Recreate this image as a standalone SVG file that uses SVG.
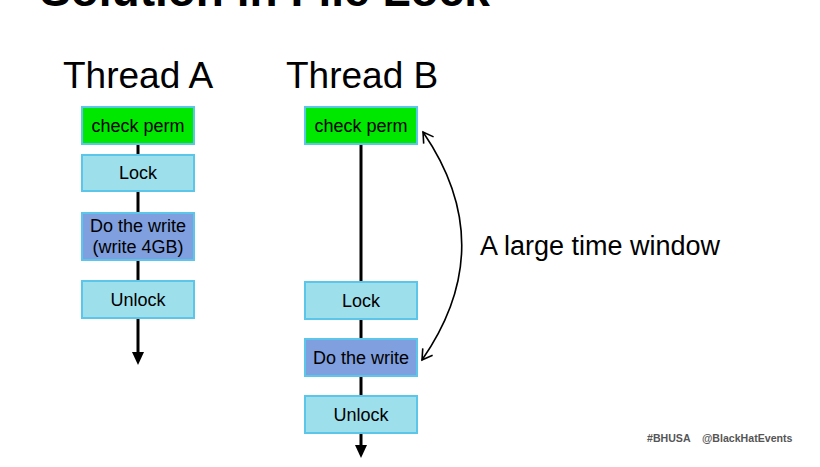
<svg xmlns="http://www.w3.org/2000/svg" width="820" height="467" viewBox="0 0 820 467">
<style>
text{font-family:"Liberation Sans",Arial,sans-serif;fill:#000}
.box{stroke:#5cc6ea;stroke-width:2}
.green{fill:#00e800}
.light{fill:#9ddfeb}
.write{fill:#7f9fdf}
.lbl{font-size:18px;text-anchor:middle}
.thread{font-size:37px}
.line{stroke:#000;stroke-width:3;fill:none}
.foot{font-size:10.6px;font-weight:bold;fill:#555}
</style>
<defs>
<marker id="solid" markerWidth="13" markerHeight="12" refX="1" refY="6" orient="auto" markerUnits="userSpaceOnUse" viewBox="0 0 13 12">
<path d="M0,0 L13,6 L0,12 Z" fill="#000"/>
</marker>
<marker id="open" markerWidth="14" markerHeight="14" refX="12" refY="7" orient="auto-start-reverse" markerUnits="userSpaceOnUse" viewBox="0 0 14 14">
<path d="M2,1 L12,7 L2,13" fill="none" stroke="#000" stroke-width="1.6"/>
</marker>
</defs>
<rect width="820" height="467" fill="#fff"/>
<text id="title" x="40" y="6" style="font-size:46px;font-weight:bold">Solution in File Lock</text>
<text id="threadA" class="thread" x="63" y="88">Thread A</text>
<text id="threadB" class="thread" x="286" y="88">Thread B</text>
<g id="connectors">
<line class="line" x1="138" y1="144" x2="138" y2="353" marker-end="url(#solid)"/>
<line class="line" x1="361" y1="144" x2="361" y2="446" marker-end="url(#solid)"/>
<path d="M423,132 Q501,246 422,360" fill="none" stroke="#000" stroke-width="1.6" marker-start="url(#open)" marker-end="url(#open)"/>
</g>
<g id="a-check"><rect class="box green" x="82" y="107" width="112" height="37"/><text class="lbl" x="138" y="132">check perm</text></g>
<g id="a-lock"><rect class="box light" x="82" y="155" width="112" height="36"/><text class="lbl" x="138" y="179">Lock</text></g>
<g id="a-write"><rect class="box write" x="82" y="213" width="112" height="47"/><text class="lbl" x="138" y="232">Do the write</text><text class="lbl" x="138" y="253">(write 4GB)</text></g>
<g id="a-unlock"><rect class="box light" x="82" y="281" width="112" height="37"/><text class="lbl" x="138" y="306">Unlock</text></g>
<g id="b-check"><rect class="box green" x="305" y="107" width="112" height="37"/><text class="lbl" x="361" y="132">check perm</text></g>
<g id="b-lock"><rect class="box light" x="305" y="282" width="112" height="37"/><text class="lbl" x="361" y="307">Lock</text></g>
<g id="b-write"><rect class="box write" x="305" y="339" width="112" height="37"/><text class="lbl" x="361" y="364">Do the write</text></g>
<g id="b-unlock"><rect class="box light" x="305" y="396" width="112" height="37"/><text class="lbl" x="361" y="421">Unlock</text></g>
<text id="window" x="480" y="255" style="font-size:27px">A large time window</text>
<text class="foot" x="647" y="442">#BHUSA</text>
<text class="foot" x="702" y="442">@BlackHatEvents</text>
</svg>
